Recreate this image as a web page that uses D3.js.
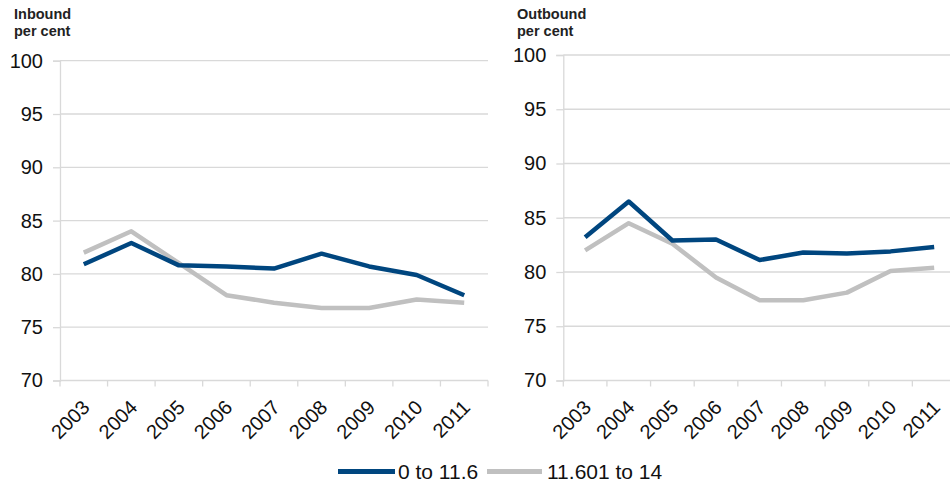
<!DOCTYPE html>
<html>
<head>
<meta charset="utf-8">
<script src="https://cdn.jsdelivr.net/npm/d3@7"></script>
<style>
  html, body { margin: 0; padding: 0; background: #fff; }
  svg { display: block; font-family: "Liberation Sans", Arial, sans-serif; }
</style>
</head>
<body>
<svg id="chart" width="950" height="483"></svg>
<script>
// Years along the x axis
const years = ["2003", "2004", "2005", "2006", "2007", "2008", "2009", "2010", "2011"];
const yTicks = [70, 75, 80, 85, 90, 95, 100];
const seriesNames = ["0 to 11.6", "11.601 to 14"];

// Inbound, per cent
const inboundLow  = [80.9, 82.9, 80.8, 80.7, 80.5, 81.9, 80.7, 79.9, 78.0];
const inboundHigh = [82.0, 84.0, 81.0, 78.0, 77.3, 76.8, 76.8, 77.6, 77.3];

// Outbound, per cent
const outboundLow  = [83.2, 86.5, 82.9, 83.0, 81.1, 81.8, 81.7, 81.9, 82.3];
const outboundHigh = [82.0, 84.5, 82.6, 79.5, 77.4, 77.4, 78.1, 80.1, 80.4];

const colors = ["#00467f", "#c0c0c0"];
const gridColor = "#d9d9d9";

const svg = d3.select("#chart");

function panel(opts) {
  const { title, left, right, top, bottom, titleX, low, high } = opts;
  const g = svg.append("g");

  const x = d3.scaleBand().domain(years).range([left, right]);
  const y = d3.scaleLinear().domain([70, 100]).range([bottom, top]);

  // Horizontal gridlines
  g.selectAll("line.grid").data(yTicks.filter(t => t > 70)).join("line")
    .attr("x1", left).attr("x2", right)
    .attr("y1", d => y(d)).attr("y2", d => y(d))
    .attr("stroke", gridColor).attr("stroke-width", 1.3);

  // Y axis
  const yAxis = g.append("g").attr("transform", `translate(${left},0)`)
    .call(d3.axisLeft(y).tickValues(yTicks).tickSize(7).tickPadding(10));
  yAxis.select(".domain").attr("stroke", gridColor).attr("stroke-width", 1.3);
  yAxis.selectAll(".tick line").attr("stroke", gridColor).attr("stroke-width", 1.3);
  yAxis.selectAll(".tick text").attr("font-size", 20).attr("fill", "#111")
    .attr("font-family", "Liberation Sans, Arial, sans-serif");

  // X axis: tick marks at band edges
  const edges = years.map(d => x(d)).concat([right]);
  g.append("line").attr("x1", left).attr("x2", right)
    .attr("y1", bottom).attr("y2", bottom)
    .attr("stroke", gridColor).attr("stroke-width", 1.3);
  g.selectAll("line.xtick").data(edges).join("line")
    .attr("x1", d => d).attr("x2", d => d)
    .attr("y1", bottom).attr("y2", bottom + 6)
    .attr("stroke", gridColor).attr("stroke-width", 1.3);

  // Rotated year labels
  g.selectAll("text.year").data(years).join("text")
    .attr("transform", d => `translate(${x(d) + x.bandwidth() / 2 - 3},${bottom + 18}) rotate(-45)`)
    .attr("text-anchor", "end")
    .attr("dy", "0.72em")
    .attr("font-size", 20).attr("fill", "#111")
    .text(d => d);

  // Lines
  const line = d3.line()
    .x((d, i) => x(years[i]) + x.bandwidth() / 2)
    .y(d => y(d));
  [high, low].forEach((vals, k) => {
    g.append("path").datum(vals)
      .attr("d", line)
      .attr("fill", "none")
      .attr("stroke", k === 0 ? colors[1] : colors[0])
      .attr("stroke-width", 4.5)
      .attr("stroke-linejoin", "round");
  });

  // Title
  const t = g.append("text").attr("x", titleX).attr("y", 19)
    .attr("font-size", 14.5).attr("font-weight", "bold").attr("fill", "#222");
  t.append("tspan").attr("x", titleX).text(title);
  t.append("tspan").attr("x", titleX).attr("dy", 16.5).text("per cent");
}

panel({ title: "Inbound", left: 60, right: 488, top: 60.7, bottom: 380.5, titleX: 14,
        low: inboundLow, high: inboundHigh });
panel({ title: "Outbound", left: 563.3, right: 956, top: 55, bottom: 380.5, titleX: 517,
        low: outboundLow, high: outboundHigh });

// Legend
const legend = svg.append("g");
const legendItems = [
  { name: seriesNames[0], color: colors[0], x1: 338, x2: 395, tx: 398 },
  { name: seriesNames[1], color: colors[1], x1: 487, x2: 542, tx: 547 }
];
legendItems.forEach(it => {
  legend.append("line").attr("x1", it.x1).attr("x2", it.x2)
    .attr("y1", 471.5).attr("y2", 471.5)
    .attr("stroke", it.color).attr("stroke-width", 5);
  legend.append("text").attr("x", it.tx).attr("y", 478.5)
    .attr("font-size", 21).attr("fill", "#111").text(it.name);
});
</script>
</body>
</html>
